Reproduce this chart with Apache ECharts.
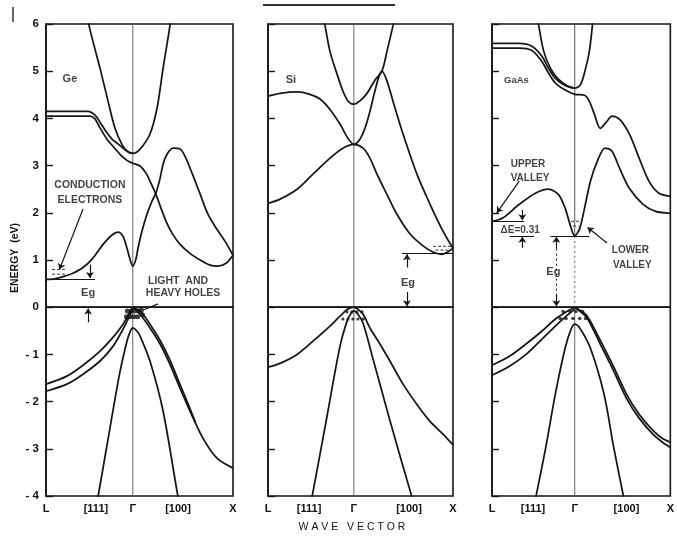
<!DOCTYPE html>
<html><head><meta charset="utf-8">
<script src="https://cdn.jsdelivr.net/npm/echarts@6/dist/echarts.min.js"></script>
<style>html,body{margin:0;padding:0;background:#fff}#c{width:677px;height:537px}</style>
</head><body><div id="c"></div>
<script>
// k = position along L -> Gamma -> X path (0 = L, 46.4 = Gamma, 100 = X); E in eV
const kTickNames = ['L', '[111]', 'Γ', '[100]', 'X'];
const kTicks = [[0, 26.7, 46.4, 70.6, 100], [0, 22.2, 46.4, 76.2, 100], [0, 23.0, 46.4, 75.4, 100]];
const gammaK = 46.4;

// ---- Ge ----
const geBand1 = [[22.3,6.25],[23.0,5.97],[28.9,5.06],[33.2,4.36],[36.9,3.79],[40.6,3.45],[43.3,3.31],[46.4,3.26],[50.3,3.35],[55.6,3.67],[59.4,4.22],[62.6,5.06],[66.3,5.97],[67.0,6.25]];
const geBand2 = [[0,4.15],[22.5,4.15],[26.2,4.07],[28.9,3.92],[32.1,3.72],[35.3,3.56],[38.5,3.46],[41.5,3.36],[44.0,3.29],[46.4,3.26]];
const geBand3 = [[0,4.05],[23.5,4.05],[26.0,4.0],[28.9,3.80],[32.6,3.56],[35.8,3.41],[39.6,3.24],[43.3,3.11],[46.4,3.05],[50.3,2.99],[53.5,2.84],[56.1,2.63],[58.8,2.39],[61.5,2.10],[64.2,1.82],[67.4,1.57],[71.7,1.33],[77.0,1.14],[82.4,1.00],[87.7,0.89],[92.0,0.87],[96.3,0.93],[100,1.10]];
const geBand4 = [[0,0.59],[4.8,0.60],[10.2,0.66],[14.4,0.72],[19.8,0.84],[25.1,1.04],[30.5,1.33],[35.3,1.53],[38.5,1.59],[41.2,1.50],[43.3,1.25],[44.9,1.02],[46.4,0.87],[48.1,1.02],[49.2,1.25],[51.3,1.61],[54.0,1.97],[56.7,2.25],[58.8,2.42],[61.0,2.73],[62.6,3.03],[64.7,3.24],[67.9,3.37],[71.7,3.35],[74.3,3.20],[78.1,2.84],[82.4,2.40],[86.6,1.97],[91.4,1.65],[95.7,1.40],[100,1.10]];
const geVal1 = [[0,-1.63],[11.2,-1.46],[19.8,-1.23],[28.9,-0.93],[35.8,-0.64],[41.2,-0.36],[43.9,-0.17],[46.4,0]];
const geVal2 = [[0,-1.78],[11.2,-1.63],[19.8,-1.42],[28.9,-1.14],[35.8,-0.83],[40.6,-0.51],[43.9,-0.25],[46.4,-0.04]];
const geVal3 = [[46.4,0],[50.3,-0.15],[55.6,-0.44],[61.0,-0.78],[66.3,-1.21],[71.7,-1.72],[77.0,-2.20],[84.0,-2.78],[91.4,-3.20],[100,-3.41]];
const geVal4 = [[46.4,-0.02],[50.3,-0.08],[55.6,-0.36],[61.0,-0.70],[66.3,-1.12],[71.7,-1.64],[77.0,-2.15],[80.0,-2.45]];
const geSplit = [[26.7,-4.2],[27.8,-4.02],[34.2,-2.56],[39.6,-1.36],[43.3,-0.72],[44.9,-0.53],[46.4,-0.44],[48.7,-0.51],[50.3,-0.61],[55.6,-1.14],[62.6,-2.20],[70.6,-4.02],[71.7,-4.2]];
const geHoles = [[43.5,-0.08],[45.5,-0.08],[47.5,-0.08],[49.5,-0.08],[51.0,-0.06],[43.0,-0.2],[45.0,-0.2],[47.0,-0.2],[49.0,-0.2],[51.5,-0.16]];
const geElectrons = [[[3.2,0.80],[10.2,0.80]],[[3.2,0.70],[10.2,0.70]]];

// ---- Si ----
const siBand1 = [[29.7,6.17],[30.8,5.97],[33.5,5.42],[37.3,4.94],[40.5,4.58],[43.2,4.37],[46.4,4.30],[49.7,4.37],[53.5,4.53],[57.8,4.81],[61.6,5.00],[64.3,5.42],[67.6,5.97],[68.6,6.17]];
const siBand2 = [[0,4.47],[6.5,4.53],[15.7,4.56],[22.7,4.51],[28.1,4.41],[33.5,4.19],[38.9,3.88],[43.2,3.58],[46.4,3.45],[49.7,3.56],[52.4,3.79],[55.1,4.15],[57.8,4.58],[60.0,4.89],[61.6,5.00],[64.3,4.79],[67.6,4.36],[73.0,3.67],[80.5,2.82],[87.6,2.18],[94.6,1.61],[100,1.25]];
const siBand3 = [[0,2.20],[6.5,2.29],[15.7,2.50],[24.3,2.82],[33.5,3.16],[40.5,3.37],[46.4,3.45],[51.4,3.37],[55.1,3.16],[58.9,2.82],[64.3,2.39],[69.7,1.97],[76.8,1.55],[83.8,1.30],[89.2,1.17],[94.1,1.12],[97.3,1.17],[100,1.25]];
const siVal1 = [[0,-1.27],[6.5,-1.19],[15.7,-1.00],[24.3,-0.72],[33.5,-0.40],[38.9,-0.19],[43.2,-0.04],[46.4,0]];
const siVal2 = [[46.4,0],[48.6,-0.04],[51.4,-0.15],[55.1,-0.44],[60.5,-0.78],[65.9,-1.14],[73.0,-1.63],[80.5,-2.06],[87.6,-2.42],[94.6,-2.69],[100,-2.92]];
const siVal3 = [[22.7,-4.2],[23.8,-4.02],[31.9,-2.31],[38.9,-0.83],[42.7,-0.30],[44.9,-0.13],[46.4,-0.08],[48.6,-0.15],[51.4,-0.34],[56.8,-1.10],[65.9,-2.40],[77.8,-4.02],[79.5,-4.2]];
const siHoles = [[42.7,-0.1],[45.4,-0.1],[48.1,-0.1],[50.8,-0.1],[40.5,-0.25],[43.2,-0.25],[45.9,-0.25],[48.6,-0.25],[51.4,-0.25]];
const siElectrons = [[[89.2,1.29],[99.0,1.29]],[[90.5,1.21],[98.0,1.21]]];

// ---- GaAs ----
const gaBand1 = [[25.1,6.23],[26.2,5.97],[29.0,5.42],[32.8,5.06],[37.2,4.83],[42.6,4.68],[46.4,4.64],[49.7,4.72],[52.5,5.06],[54.6,5.42],[56.3,5.97],[56.8,6.23]];
const gaBand2 = [[0,5.59],[15.3,5.59],[22.4,5.53],[27.9,5.32],[31.7,5.06],[35.5,4.85],[41.0,4.70],[46.4,4.64]];
const gaBand3 = [[0,5.49],[15.3,5.49],[22.4,5.44],[27.9,5.21],[31.7,4.96],[35.5,4.75],[41.0,4.60],[46.4,4.51],[51.9,4.49],[54.6,4.36],[57.4,4.09],[60.7,3.79],[64.5,3.94],[67.2,4.05],[71.6,3.98],[77.0,3.67],[82.5,3.16],[88.0,2.67],[93.4,2.42],[100,2.35]];
const gaBand4 = [[0,1.82],[6.0,1.89],[15.3,2.18],[24.6,2.42],[31.7,2.50],[37.2,2.39],[41.0,2.10],[43.7,1.76],[46.4,1.51],[49.2,1.67],[51.9,2.10],[55.2,2.67],[59.0,3.09],[63.4,3.37],[67.2,3.31],[71.6,2.94],[77.0,2.52],[84.7,2.18],[91.8,2.03],[100,1.99]];
const gaVal1 = [[0,-1.23],[9.8,-1.04],[19.1,-0.78],[27.9,-0.51],[35.5,-0.25],[41.0,-0.11],[46.4,0]];
const gaVal2 = [[0,-1.44],[9.8,-1.25],[19.1,-1.00],[27.9,-0.68],[35.5,-0.40],[41.0,-0.21],[46.4,-0.04]];
const gaVal3 = [[46.4,0],[52.5,-0.19],[55.2,-0.36],[60.7,-0.78],[68.3,-1.36],[75.4,-1.93],[82.5,-2.35],[90.2,-2.69],[95.6,-2.86],[100,-2.97]];
const gaVal4 = [[46.4,0],[52.5,-0.15],[55.2,-0.30],[60.7,-0.70],[68.3,-1.27],[75.4,-1.84],[82.5,-2.27],[90.2,-2.61],[95.6,-2.78],[100,-2.86]];
const gaSplit = [[23.5,-4.2],[24.6,-4.02],[30.1,-2.98],[35.5,-1.84],[41.0,-0.87],[44.3,-0.47],[46.4,-0.36],[49.2,-0.44],[55.2,-0.87],[62.8,-1.84],[68.3,-2.98],[73.8,-4.02],[74.9,-4.2]];
const gaHoles = [[39.9,-0.09],[43.7,-0.09],[47.0,-0.09],[50.8,-0.09],[38.3,-0.24],[41.5,-0.24],[45.4,-0.24],[49.2,-0.24],[52.5,-0.24]];
const gaElectrons = [[[44.3,1.82],[49.7,1.82]],[[45.4,1.72],[48.6,1.72]]];

// annotation segments [panel, [[k1,E1],[k2,E2]], kind]
const annotations = [
  [0, [[0,0.59],[26.2,0.59]], 'line'],
  [0, [[23.5,0.90],[23.5,0.62]], 'arrow'],
  [0, [[22.5,-0.32],[22.5,-0.03]], 'arrow'],
  [0, [[19.8,2.08],[7.2,0.80]], 'arrow'],
  [0, [[59.9,0.07],[52.0,-0.06]], 'line'],
  [1, [[72.4,1.14],[100,1.14]], 'line'],
  [1, [[75.1,0.84],[75.1,1.12]], 'arrow'],
  [1, [[75.1,0.32],[75.1,0.02]], 'arrow'],
  [2, [[0,1.82],[18,1.82]], 'line'],
  [2, [[9.8,1.51],[23.5,1.51]], 'line'],
  [2, [[32.8,1.51],[54.6,1.51]], 'line'],
  [2, [[17,2.06],[17,1.84]], 'arrow'],
  [2, [[17,1.26],[17,1.49]], 'arrow'],
  [2, [[36.1,1.24],[36.1,1.49]], 'arrow'],
  [2, [[36.1,1.24],[36.1,0.24]], 'dotted'],
  [2, [[36.1,0.26],[36.1,0.02]], 'arrow'],
  [2, [[15.3,2.67],[2.7,2.00]], 'arrow'],
  [2, [[64.5,1.36],[53.6,1.69]], 'arrow']
];

// text labels [panel, k, E, text, size]
const texts = [
  [0, 12.8, 4.83, 'Ge', 11],
  [0, 23.5, 2.58, 'CONDUCTION', 10.5],
  [0, 23.5, 2.27, 'ELECTRONS', 10.5],
  [0, 22.5, 0.30, 'Eg', 11],
  [0, 70.6, 0.56, 'LIGHT  AND', 10.5],
  [0, 73.3, 0.29, 'HEAVY HOLES', 10.5],
  [1, 12.4, 4.81, 'Si', 11],
  [1, 75.7, 0.51, 'Eg', 11],
  [2, 13.7, 4.81, 'GaAs', 9.5],
  [2, 20.2, 3.03, 'UPPER', 10],
  [2, 21.3, 2.74, 'VALLEY', 10],
  [2, 15.8, 1.64, 'ΔE=0.31', 10],
  [2, 34.4, 0.74, 'Eg', 11],
  [2, 77.6, 1.21, 'LOWER', 10],
  [2, 78.7, 0.89, 'VALLEY', 10]
];

const panels = [
  {bands: [geBand1, geBand2, geBand3, geBand4, geVal1, geVal2, geVal3, geVal4, geSplit], holes: geHoles, electrons: geElectrons, holeSize: 5},
  {bands: [siBand1, siBand2, siBand3, siVal1, siVal2, siVal3], holes: siHoles, electrons: siElectrons, holeSize: 3.2},
  {bands: [gaBand1, gaBand2, gaBand3, gaBand4, gaVal1, gaVal2, gaVal3, gaVal4, gaSplit], holes: gaHoles, electrons: gaElectrons, holeSize: 3.6}
];

const FONT = '"Liberation Sans", Arial, sans-serif';
const INK = '#161616';
const grids = [
  {left: 46, top: 24, width: 187, height: 472},
  {left: 268, top: 24, width: 185, height: 472},
  {left: 492, top: 24, width: 184, height: 472}
].map(g => Object.assign(g, {show: true, borderColor: INK, borderWidth: 1.6, backgroundColor: 'transparent', containLabel: false}));

const xAxes = [0,1,2].map(i => ({
  type: 'value', gridIndex: i, min: 0, max: 100,
  axisLine: {show: true, lineStyle: {color: INK, width: 1.6}},
  axisTick: {show: false}, splitLine: {show: false},
  axisLabel: {
    customValues: kTicks[i],
    formatter: (v) => { const j = kTicks[i].findIndex(t => Math.abs(t - v) < 1e-6); return j >= 0 ? kTickNames[j] : ''; },
    margin: 7, fontSize: 11, fontWeight: 'bold', color: '#111', fontFamily: FONT, showMinLabel: true, showMaxLabel: true
  }
}));
const yAxes = [0,1,2].map(i => ({
  type: 'value', gridIndex: i, min: -4, max: 6, interval: 1,
  axisLine: {show: true, lineStyle: {color: INK, width: 1.6}},
  axisTick: {show: true, inside: true, length: 7, lineStyle: {color: INK, width: 1.4}},
  splitLine: {show: false},
  axisLabel: {show: i === 0, margin: 7, fontSize: 11.5, fontWeight: 'bold', color: '#111', fontFamily: FONT,
    formatter: v => (v < 0 ? '- ' + Math.abs(v) : String(v))}
}));

const series = [];
function lineS(i, data, opt) {
  series.push(Object.assign({
    type: 'line', xAxisIndex: i, yAxisIndex: i, data: data, symbol: 'none', showSymbol: false,
    smooth: 0.3, silent: true, animation: false, clip: true, z: 3,
    lineStyle: {color: INK, width: 1.75}
  }, opt || {}));
}
panels.forEach((p, i) => {
  lineS(i, [[0,0],[100,0]], {smooth: false, lineStyle: {color: INK, width: 1.4}, z: 2});
  if (i === 2) {
    lineS(i, [[gammaK,6],[gammaK,1.51]], {smooth: false, lineStyle: {color: '#444', width: 0.9}, z: 2});
    lineS(i, [[gammaK,1.51],[gammaK,0]], {smooth: false, lineStyle: {color: '#555', width: 0.9, type: [2,3]}, z: 2});
    lineS(i, [[gammaK,0],[gammaK,-4]], {smooth: false, lineStyle: {color: '#555', width: 0.9}, z: 2});
  } else {
    lineS(i, [[gammaK,6],[gammaK,-4]], {smooth: false, lineStyle: {color: '#555', width: 0.9}, z: 2});
  }
  p.bands.forEach(b => lineS(i, b));
  p.electrons.forEach(e => lineS(i, e, {smooth: false, lineStyle: {color: '#333', width: 1, type: [3,2]}}));
  series.push({type: 'scatter', xAxisIndex: i, yAxisIndex: i, data: p.holes, symbol: 'circle',
    symbolSize: p.holeSize, itemStyle: {color: '#111'}, silent: true, animation: false, z: 4});
});
annotations.forEach(a => {
  const [i, coords, kind] = a;
  series.push({
    type: 'lines', coordinateSystem: 'cartesian2d', xAxisIndex: i, yAxisIndex: i,
    data: [{coords: coords}], silent: true, animation: false, z: 4,
    symbol: kind === 'arrow' ? ['none', 'arrow'] : ['none', 'none'], symbolSize: 6,
    lineStyle: {color: INK, width: kind === 'dotted' ? 1 : 1.2, type: kind === 'dotted' ? [2,3] : 'solid', opacity: 1, curveness: 0}
  });
});
[0,1,2].forEach(i => {
  const items = texts.filter(t => t[0] === i).map(t => ({value: [t[1], t[2]], name: t[3],
    label: {fontSize: t[4]}}));
  series.push({type: 'scatter', xAxisIndex: i, yAxisIndex: i, data: items, symbolSize: 1,
    itemStyle: {color: 'rgba(0,0,0,0)'}, silent: true, animation: false, z: 6,
    label: {show: true, position: 'inside', formatter: '{b}', color: '#111', fontWeight: 'bold', fontFamily: FONT}});
});

const chart = echarts.init(document.getElementById('c'), null, {renderer: 'canvas'});
chart.setOption({
  backgroundColor: '#fff', animation: false,
  grid: grids, xAxis: xAxes, yAxis: yAxes, series: series,
  graphic: [
    {type: 'text', x: 15, y: 258, rotation: Math.PI / 2, style: {text: 'ENERGY  (eV)', fontSize: 10.5, fontWeight: 'bold', fontFamily: FONT, fill: '#111', align: 'center', verticalAlign: 'middle'}},
    {type: 'text', x: 352, y: 527, style: {text: 'W A V E   V E C T O R', fontSize: 10.5, fontFamily: FONT, fill: '#111', align: 'center', verticalAlign: 'middle'}},
    {type: 'line', shape: {x1: 263, y1: 5, x2: 395, y2: 5}, style: {stroke: '#333', lineWidth: 2}},
    {type: 'line', shape: {x1: 13, y1: 7, x2: 13, y2: 22}, style: {stroke: '#333', lineWidth: 1.5}}
  ]
});
</script></body></html>
